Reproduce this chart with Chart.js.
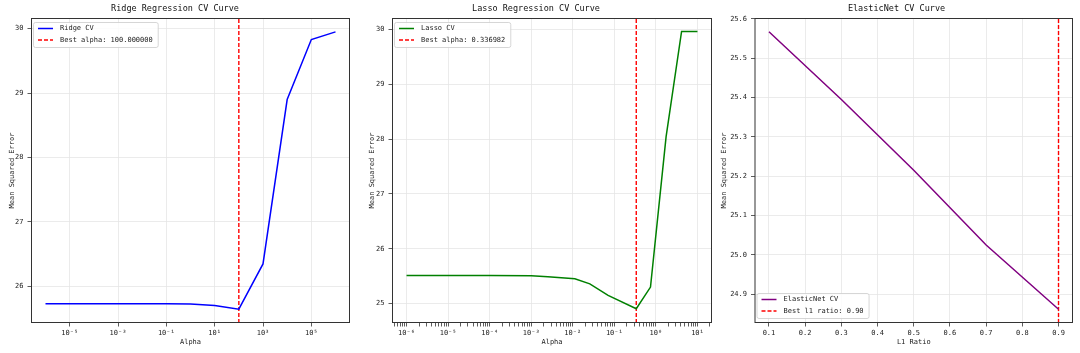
<!DOCTYPE html>
<html>
<head>
<meta charset="utf-8">
<script src="https://cdn.jsdelivr.net/npm/chart.js@4"></script>
<style>
  body { margin: 0; background: #fff; width: 1080px; height: 353px; overflow: hidden; position: relative; }
  canvas { position: absolute; top: 0; }
</style>
</head>
<body>
<canvas id="ridgeChart" width="360" height="353" style="left:0px"></canvas>
<canvas id="lassoChart" width="360" height="353" style="left:360px"></canvas>
<canvas id="enetChart" width="360" height="353" style="left:720px"></canvas>
<script>
// ---- data ----
// x values of the two log panels are log10(alpha)
const ridgeLogAlpha = [-6, -5, -4, -3, -2, -1, 0, 1, 2, 3, 4, 5, 6];
const ridgeMse = [25.73, 25.73, 25.73, 25.73, 25.73, 25.73, 25.728, 25.705, 25.648, 26.35, 28.90, 29.83, 29.95];
const ridgeBestLog = 2; // alpha = 100
const ridgeXTicks = [-5, -3, -1, 1, 3, 5];

const lassoLogAlpha = [-6, -5, -4, -3, -2.6, -1.95, -1.59, -1.15, -0.4724, -0.13, 0.245, 0.618, 1.0];
const lassoMse = [25.51, 25.51, 25.51, 25.505, 25.49, 25.453, 25.36, 25.15, 24.905, 25.30, 28.04, 29.965, 29.965];
const lassoBestAlpha = 0.336982;
const lassoXTicks = [-6, -5, -4, -3, -2, -1, 0, 1];

const l1Ratios = [0.1, 0.3, 0.5, 0.7, 0.9];
const enetMse = [25.567, 25.395, 25.215, 25.025, 24.862];
const bestL1 = 0.9;

const FONT = '"DejaVu Sans Mono", monospace';
const supMap = { '-': '\u207b', '0': '\u2070', '1': '\u00b9', '2': '\u00b2', '3': '\u00b3', '4': '\u2074', '5': '\u2075', '6': '\u2076', '7': '\u2077', '8': '\u2078', '9': '\u2079' };
const pow10Label = (v) => '10' + String(v).split('').map(c => supMap[c]).join('');

// frame around plot + legend box inside the axes
const frameAndLegend = {
    id: 'frameAndLegend',
    afterDraw(chart, args, opts) {
        const { ctx, chartArea } = chart;
        ctx.save();
        ctx.strokeStyle = '#333';
        ctx.lineWidth = 1;
        ctx.strokeRect(chartArea.left + 0.5, chartArea.top + 0.5, chartArea.width - 1, chartArea.height - 1);

        const sets = chart.data.datasets;
        ctx.font = '7px ' + FONT;
        const rowH = 11.5, lineLen = 15;
        const textW = Math.max(...sets.map(d => ctx.measureText(d.label).width));
        const w = 5 + lineLen + 7 + textW + 5;
        const h = sets.length * rowH + 2;
        const x = chartArea.left + 2;
        const y = opts.corner === 'bottom' ? chartArea.bottom - 5 - h : chartArea.top + 4;
        ctx.fillStyle = 'rgba(255,255,255,0.85)';
        ctx.strokeStyle = '#cccccc';
        ctx.lineWidth = 0.8;
        ctx.beginPath();
        ctx.roundRect(x + 0.5, y + 0.5, w, h, 2);
        ctx.fill();
        ctx.stroke();
        sets.forEach((d, i) => {
            const cy = y + 6.5 + i * rowH;
            ctx.strokeStyle = d.borderColor;
            ctx.lineWidth = d.borderWidth;
            ctx.setLineDash(d.borderDash || []);
            ctx.beginPath();
            ctx.moveTo(x + 5, cy);
            ctx.lineTo(x + 5 + lineLen, cy);
            ctx.stroke();
            ctx.setLineDash([]);
            ctx.fillStyle = '#222';
            ctx.textBaseline = 'middle';
            ctx.fillText(d.label, x + 5 + lineLen + 7, cy);
        });
        ctx.restore();
    }
};

const makeChart = (id, cfg) => {
    const gridColor = (c) => (c.tick && c.tick.minor) ? 'rgba(0,0,0,0)' : '#e6e6e6';
    const chart = new Chart(document.getElementById(id), {
        type: 'line',
        data: {
            datasets: [
                { label: cfg.lineLabel, data: cfg.xs.map((x, i) => ({ x, y: cfg.ys[i] })),
                  borderColor: cfg.color, borderWidth: 1.5, pointRadius: 0, tension: 0 },
                { label: cfg.bestLabel, data: [{ x: cfg.best, y: cfg.yMin }, { x: cfg.best, y: cfg.yMax }],
                  borderColor: '#ff0000', borderWidth: 1.4, borderDash: [4, 2], pointRadius: 0 }
            ]
        },
        options: {
            responsive: false,
            animation: false,
            devicePixelRatio: 1,
            layout: { padding: { left: 0, right: cfg.padRight, top: 0, bottom: 0 } },
            plugins: {
                legend: { display: false },
                tooltip: { enabled: false },
                title: { display: true, text: cfg.title, color: '#111',
                         font: { family: FONT, size: 8.5, weight: 'normal' }, padding: { top: 4, bottom: 3.8 } },
                frameAndLegend: { corner: cfg.legendCorner }
            },
            scales: {
                x: {
                    type: 'linear', min: cfg.xMin, max: cfg.xMax,
                    afterFit: (a) => { a.height = 30; },
                    afterBuildTicks: cfg.xTickBuilder,
                    border: { display: false },
                    grid: { color: gridColor, lineWidth: 0.8, tickColor: '#333', tickLength: 3.5, tickWidth: 0.8 },
                    ticks: { autoSkip: false, maxRotation: 0, includeBounds: false, stepSize: cfg.xStep,
                             color: '#222', padding: 2, font: { family: FONT, size: 7 },
                             callback: cfg.xLabel },
                    title: { display: true, text: cfg.xTitle, color: '#222',
                             font: { family: FONT, size: 7 }, padding: { top: 0, bottom: 6.8 } }
                },
                y: {
                    min: cfg.yMin, max: cfg.yMax,
                    afterFit: (a) => { a.width = cfg.yWidth; },
                    border: { display: false },
                    grid: { color: '#e6e6e6', lineWidth: 0.8, tickColor: '#333', tickLength: 3.5, tickWidth: 0.8 },
                    ticks: { stepSize: cfg.yStep, includeBounds: false, color: '#222', padding: 4,
                             font: { family: FONT, size: 7 }, callback: cfg.yLabel },
                    title: { display: true, text: 'Mean Squared Error', color: '#222',
                             font: { family: FONT, size: 7 }, padding: { top: cfg.yTitlePad, bottom: 0 } }
                }
            }
        },
        plugins: [frameAndLegend]
    });
    return chart;
};

makeChart('ridgeChart', {
    title: 'Ridge Regression CV Curve', xTitle: 'Alpha',
    lineLabel: 'Ridge CV', bestLabel: 'Best alpha: 100.000000',
    xs: ridgeLogAlpha, ys: ridgeMse, best: ridgeBestLog, color: '#0000ff',
    xMin: -6.6, xMax: 6.6, yMin: 25.433, yMax: 30.165, yStep: 1,
    xTickBuilder: (a) => { a.ticks = ridgeXTicks.map(v => ({ value: v })); },
    xLabel: (v) => pow10Label(v), yLabel: (v) => String(v),
    yWidth: 31, padRight: 10, legendCorner: 'top', yTitlePad: 7.5
});

makeChart('lassoChart', {
    title: 'Lasso Regression CV Curve', xTitle: 'Alpha',
    lineLabel: 'Lasso CV', bestLabel: 'Best alpha: ' + lassoBestAlpha.toFixed(6),
    xs: lassoLogAlpha, ys: lassoMse, best: Math.log10(lassoBestAlpha), color: '#008000',
    xMin: -6.35, xMax: 1.35, yMin: 24.645, yMax: 30.21, yStep: 1,
    xTickBuilder: (a) => {
        const ticks = lassoXTicks.map(v => ({ value: v }));
        for (let e = -7; e <= 1; e++) {
            for (let k = 2; k <= 9; k++) {
                const v = e + Math.log10(k);
                if (v > -6.35 && v < 1.35) ticks.push({ value: v, minor: true });
            }
        }
        a.ticks = ticks.sort((p, q) => p.value - q.value);
    },
    xLabel: function (v, i, ticks) { return ticks[i].minor ? '' : pow10Label(v); },
    yLabel: (v) => String(v),
    yWidth: 32, padRight: 8, legendCorner: 'top', yTitlePad: 7.5
});

makeChart('enetChart', {
    title: 'ElasticNet CV Curve', xTitle: 'L1 Ratio',
    lineLabel: 'ElasticNet CV', bestLabel: 'Best l1 ratio: ' + bestL1.toFixed(2),
    xs: l1Ratios, ys: enetMse, best: bestL1, color: '#800080',
    xMin: 0.06, xMax: 0.94, xStep: 0.1, yMin: 24.827, yMax: 25.602, yStep: 0.1,
    xLabel: (v) => v.toFixed(1), yLabel: (v) => v.toFixed(1),
    yWidth: 34.5, padRight: 7, legendCorner: 'bottom', yTitlePad: 0.3
});
</script>
</body>
</html>
